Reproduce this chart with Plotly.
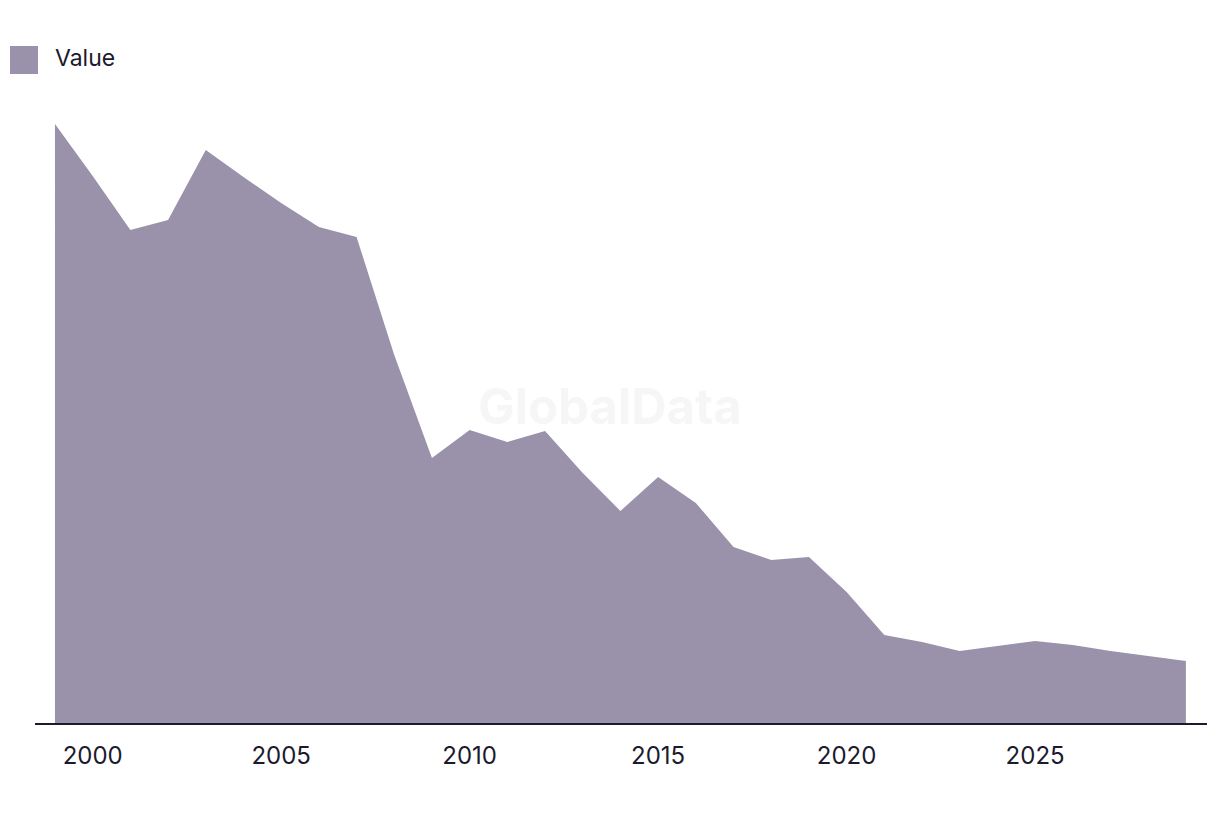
import plotly.graph_objects as go

years = list(range(1999, 2030))
values = [599, 547, 493, 503, 573, 546, 520, 496, 486, 368, 265, 293, 281, 292, 250,
          212, 246, 220, 176, 163, 166, 131, 88, 81, 72, 77, 82, 78, 72, 67, 62]
tick_vals = [2000, 2005, 2010, 2015, 2020, 2025]
series_name = "Value"
area_color = "#9a91aa"
text_color = "#1c1a2e"

fig = go.Figure()
fig.add_trace(go.Scatter(
    x=years, y=values, mode="lines", fill="tozeroy",
    line=dict(width=0, color=area_color), fillcolor=area_color,
    name=series_name, showlegend=False, hoverinfo="x+y",
))

fig.add_annotation(text="GlobalData", xref="paper", yref="paper", x=0.491, y=0.508,
                   showarrow=False, font=dict(family="Inter", size=49, color="#f6f6f6", weight="bold"))

# legend swatch and label
fig.add_shape(type="rect", xref="paper", yref="paper",
              x0=-25/1172, x1=3/1172, y0=1 + 26/623, y1=1 + 54/623,
              fillcolor=area_color, line=dict(width=0))
fig.add_annotation(text=series_name, xref="paper", yref="paper", x=18/1172, y=1 + 42/623,
                   xanchor="left", yanchor="middle", showarrow=False,
                   font=dict(family="Inter", size=23, color=text_color))

fig.update_layout(
    width=1220, height=814,
    margin=dict(l=27, r=21, t=92, b=99),
    paper_bgcolor="white", plot_bgcolor="white",
    font=dict(family="Inter", color=text_color),
    xaxis=dict(range=[1998.47, 2029.56], tickvals=tick_vals, showgrid=False, zeroline=False,
               showline=True, linecolor=text_color, linewidth=2, ticks="",
               tickfont=dict(size=24, color=text_color), ticklabelstandoff=10),
    yaxis=dict(range=[0, 623], visible=False, showgrid=False, zeroline=False),
)

fig.write_html("out.html")
